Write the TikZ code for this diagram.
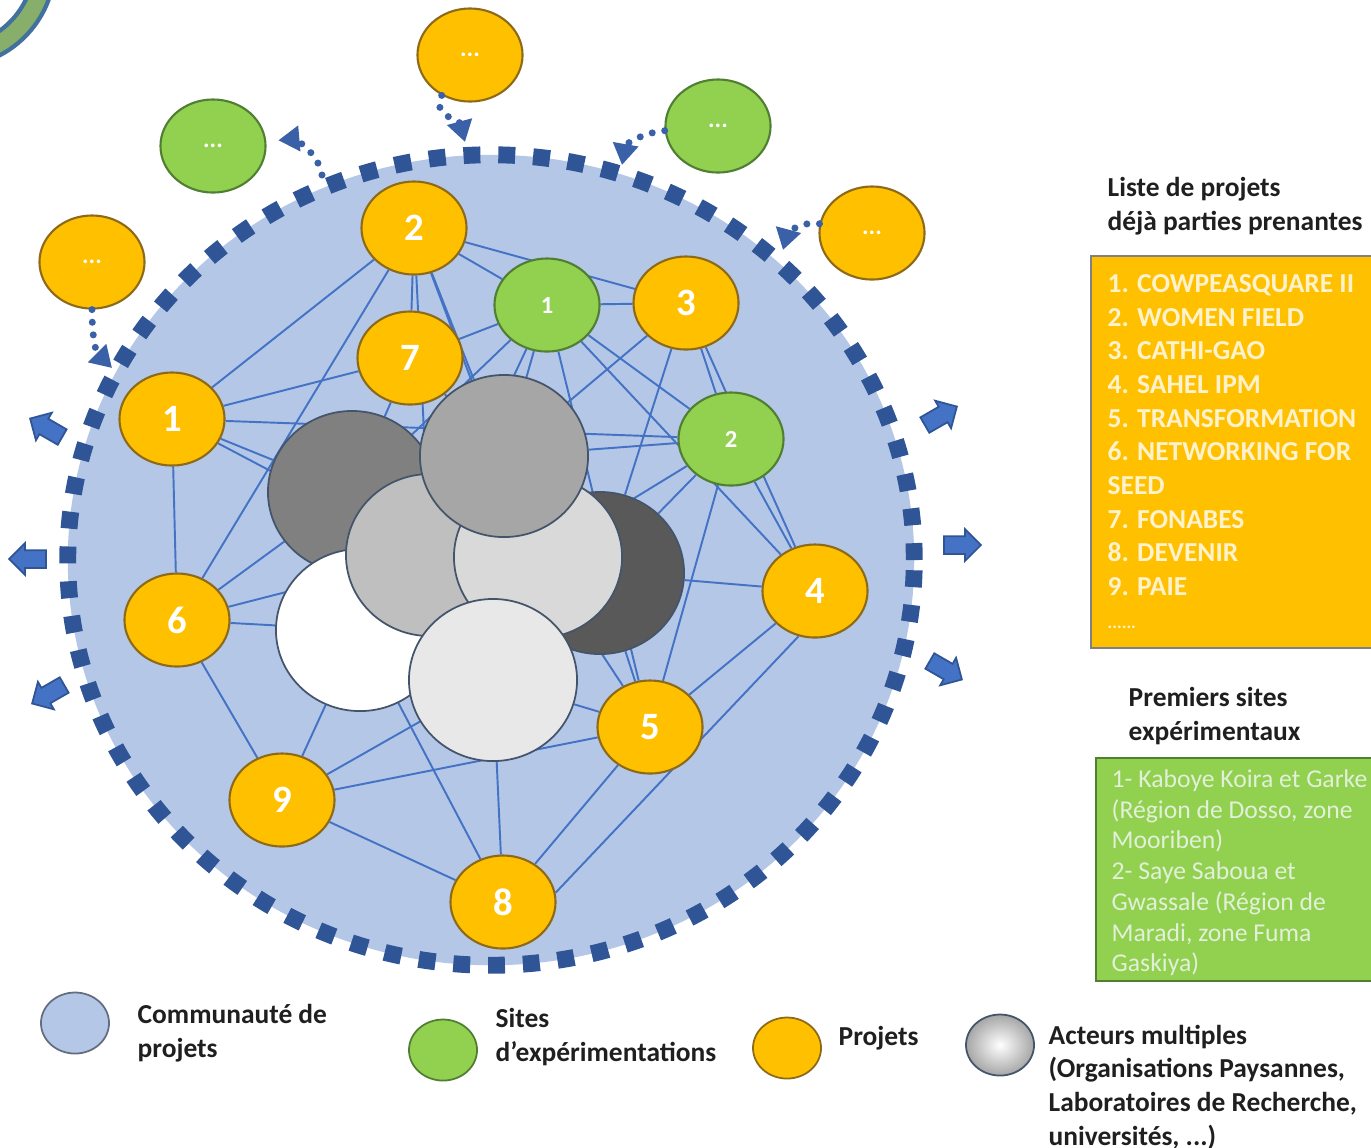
\documentclass[tikz,border=0pt]{standalone}
\usepackage{fontspec}
\setmainfont{Carlito}
\usetikzlibrary{shapes.geometric,shapes.arrows,arrows.meta,backgrounds}

\definecolor{commblue}{HTML}{B4C7E7}
\definecolor{linkblue}{HTML}{4472C4}
\definecolor{dashblue}{HTML}{2F5597}
\definecolor{projyellow}{HTML}{FFC000}
\definecolor{projedge}{HTML}{8C6A1A}
\definecolor{sitegreen}{HTML}{92D050}
\definecolor{siteedge}{HTML}{507E32}
\definecolor{actoredge}{HTML}{44546A}
\definecolor{listink}{HTML}{FFF2CC}
\definecolor{siteink}{HTML}{E2F0D9}
\definecolor{ringgreen}{HTML}{88AE6C}
\definecolor{ringblue}{HTML}{41719C}

\pgfdeclarelayer{links}
\pgfsetlayers{background,links,main}

\tikzset{
  community/.style={ellipse, fill=commblue, draw=dashblue, line width=4.8pt,
    dash pattern=on 4.8pt off 5.1pt, minimum width=8.46cm, minimum height=8.1cm},
  proj/.style={ellipse, draw=projedge, fill=projyellow, line width=0.6pt,
    minimum width=1.05cm, minimum height=0.93cm, inner sep=0pt, text=white,
    font=\fontsize{11}{13}\selectfont\bfseries},
  site/.style={proj, draw=siteedge, fill=sitegreen, font=\fontsize{7}{8}\selectfont\bfseries},
  more/.style={font=\fontsize{7}{8}\selectfont\bfseries},
  actor/.style={ellipse, draw=actoredge, line width=0.5pt, inner sep=0pt,
    minimum width=1.68cm, minimum height=1.62cm},
  link/.style={linkblue, line width=0.55pt},
  spread/.style={draw=linkblue!85!black, line width=2pt, line cap=round,
    dash pattern=on 0pt off 3.6pt, -{Triangle[length=6pt,width=7pt]}},
  blockarrow/.style={single arrow, draw=dashblue, fill=linkblue, line width=0.5pt,
    minimum height=0.37cm, inner xsep=0pt, inner ysep=0.08cm,
    single arrow head extend=0.07cm},
  heading/.style={anchor=north west, inner sep=0pt, align=left, text=black!88,
    font=\fontsize{7.8}{9.6}\selectfont\bfseries},
  listbox/.style={anchor=north west, draw=black!50, fill=projyellow, line width=0.6pt},
  listtext/.style={anchor=north west, inner sep=0pt, align=left, text=listink,
    font=\fontsize{7.8}{9.56}\selectfont\bfseries},
  sitetext/.style={anchor=north west, inner sep=0pt, align=left, text=siteink,
    font=\fontsize{7.3}{8.73}\selectfont},
  legmark/.style={ellipse, minimum width=0.68cm, minimum height=0.61cm, line width=0.5pt}
}

\begin{document}
\begin{tikzpicture}[x=0.01cm,y=0.01cm]
\useasboundingbox (0,0) rectangle (1371,-1147);

% ring cut by the corner
\begin{scope}
  \clip (0,0) rectangle (1371,-1147);
  \draw[ringblue, line width=1.2pt, fill=ringgreen, even odd rule]
    (-48,36) circle [radius=103] (-48,36) circle [radius=82];
\end{scope}

% community of projects
\begin{pgfonlayer}{background}
  \node[community] (comm) at (491,-560) {};
\end{pgfonlayer}

% actors
\node[actor, fill=black!50] (ak) at (352,-492) {};
\node[actor, fill=black!65] (an) at (600,-573) {};
\node[actor, fill=white] (aw) at (360,-630) {};
\node[actor, fill=black!25] (al) at (430,-555) {};
\node[actor, fill=black!15] (ar) at (538,-557) {};
\node[actor, fill=black!35] (am) at (504,-456) {};
\node[actor, fill=black!9] (ab) at (493,-680) {};

% projects and sites
\node[proj] (p1) at (172,-419) {1};
\node[proj] (p2) at (414,-228) {2};
\node[proj] (p3) at (686,-303) {3};
\node[proj] (p4) at (815,-591) {4};
\node[proj] (p5) at (650,-727) {5};
\node[proj] (p6) at (177,-620) {6};
\node[proj] (p7) at (410,-358) {7};
\node[proj] (p8) at (503,-902) {8};
\node[proj] (p9) at (282,-800) {9};
\node[site] (s1) at (547,-305) {1};
\node[site] (s2) at (731,-439) {2};

% links
\begin{pgfonlayer}{links}
  \foreach \a/\b in {p2/p1, p2/p6, p2/p7, p2/s1, p2/p3, p2/am, p2/al, p2/ar,
      p1/p7, p1/p6, p1/ak, p1/al, p1/s2, p7/s1, p7/ak, p7/am,
      s1/p3, s1/s2, s1/p4, s1/ak, s1/al, s1/am, s1/p5,
      p3/s2, p3/p4, p3/am, p3/an, s2/p4, s2/am, s2/an, s2/p5, s2/ar,
      p4/an, p4/p5, p5/an, p5/ab, p5/ar, p5/p8, p5/p9,
      p6/ak, p6/aw, p6/al, p6/p9, p9/aw, p9/ab, p9/p8, p8/ab, p8/aw}
    \draw[link] (\a) -- (\b);
  \draw[link] (p4.250) -- (p8.10);
\end{pgfonlayer}

% new members around
\node[proj, more] (yt) at (470,-55) {...};
\node[site, more] (g1) at (213,-146) {...};
\node[site, more] (g2) at (718,-126) {...};
\node[proj, more] (yr) at (872,-233) {...};
\node[proj, more] (yl) at (92,-262) {...};

\coordinate (rim1) at (322,-175);
\coordinate (rim2) at (465,-142);
\coordinate (rim3) at (622,-165);
\coordinate (rim4) at (783,-250);
\coordinate (rim5) at (112,-368);

\draw[spread, shorten >=0.12cm] (rim1) to[out=100,in=5] (g1);
\draw[spread] (yt) to[out=235,in=105] (rim2);
\draw[spread] (g2) to[out=185,in=80] (rim3);
\draw[spread] (yr) to[out=170,in=75] (rim4);
\draw[spread] (yl) to[out=270,in=135] (rim5);

% spreading out
\node[blockarrow, rotate=150] (outw1) at (50,-430) {};
\node[blockarrow, rotate=180] (outw2) at (32,-559) {};
\node[blockarrow, rotate=210] (outw3) at (52,-692) {};
\node[blockarrow, rotate=30] (oute1) at (937,-418) {};
\node[blockarrow] (oute2) at (958,-545) {};
\node[blockarrow, rotate=-30] (oute3) at (942,-668) {};

% lists on the right
\node[heading] (listtitle) at (1107,-177) {Liste de projets\\déjà parties prenantes};
\node[listbox, minimum width=2.9cm, minimum height=3.92cm] (projbox) at (1090,-255) {};
\node[listtext] (projlist) at (1107,-274) {1. COWPEASQUARE II\\2. WOMEN FIELD\\3. CATHI-GAO\\4. SAHEL IPM\\5. TRANSFORMATION\\6. NETWORKING FOR\\SEED\\7. FONABES\\8. DEVENIR\\9. PAIE\\{\fontsize{5}{6}\selectfont ......}};

\node[heading] (sitetitle) at (1128,-687) {Premiers sites\\expérimentaux};
\node[listbox, fill=sitegreen, draw=siteedge, minimum width=2.85cm, minimum height=2.23cm] (sitebox) at (1095,-757) {};
\node[sitetext] (sitelist) at (1111,-769) {1- Kaboye Koira et Garke\\(Région de Dosso, zone\\Mooriben)\\2- Saye Saboua et\\Gwassale (Région de\\Maradi, zone Fuma\\Gaskiya)};

% legend
\node[legmark, fill=commblue, draw=black!45!commblue] (legcomm) at (75,-1023) {};
\node[heading] (legcommtext) at (137,-1004) {Communauté de\\projets};
\node[legmark, fill=sitegreen, draw=siteedge] (legsite) at (443,-1050) {};
\node[heading] (legsitetext) at (495,-1008) {Sites\\d’expérimentations};
\node[legmark, fill=projyellow, draw=projedge] (legproj) at (787,-1048) {};
\node[heading] (legprojtext) at (838,-1026) {Projets};
\node[legmark, inner color=white, outer color=black!35, draw=actoredge] (legactor) at (1000,-1045) {};
\node[heading] (legactortext) at (1048,-1024) {Acteurs multiples\\(Organisations Paysannes,\\Laboratoires de Recherche,\\universités, ...)};
\end{tikzpicture}
\end{document}
